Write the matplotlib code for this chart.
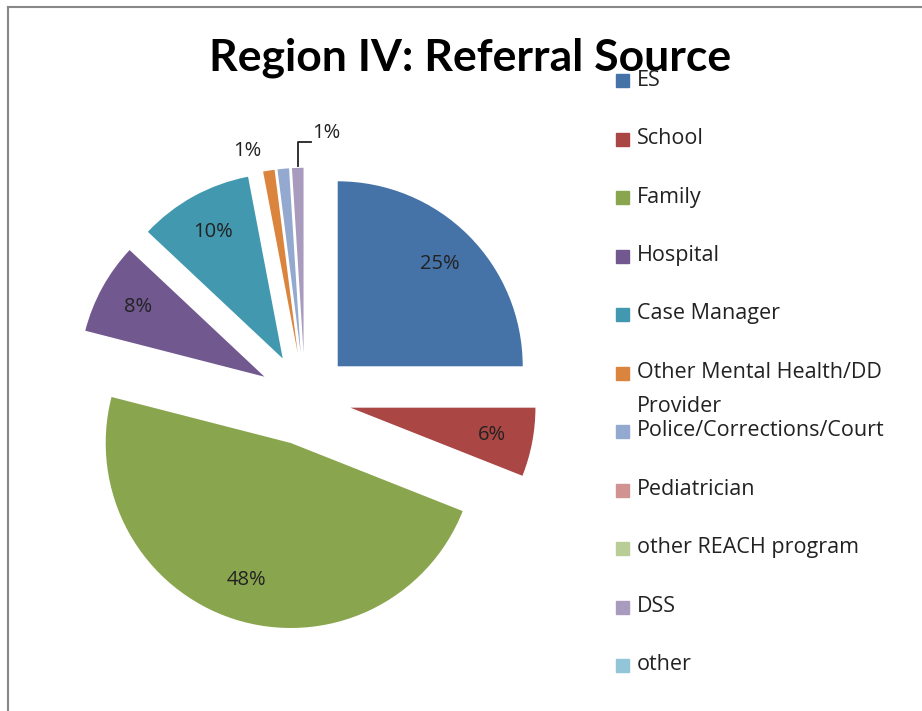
import matplotlib
matplotlib.use('Agg')
import matplotlib.pyplot as plt
import numpy as np

plt.rcParams['font.family'] = ['Open Sans', 'DejaVu Sans']

# referral sources and their shares (percent)
sources = ['ES', 'School', 'Family', 'Hospital', 'Case Manager',
           'Other Mental Health/DD\nProvider', 'Police/Corrections/Court',
           'Pediatrician', 'other REACH program', 'DSS', 'other']
shares = [25, 6, 48, 8, 10, 1, 1, 0, 0, 1, 0]
colors = ['#4572A7', '#AA4643', '#89A54E', '#71588F', '#4198AF', '#DB843D',
          '#93A9CF', '#D19392', '#B9CD96', '#A99BBD', '#92C5D8']

W, H = 922, 711
fig = plt.figure(figsize=(W / 100, H / 100), dpi=100)

# pie axes: centre at (305, 399) px, radius 185 px
R = 185
cx, cy = 305, H - 399
half = 1.5 * R
ax = fig.add_axes([(cx - half) / W, (cy - half) / H, 2 * half / W, 2 * half / H])

def pct_fmt(p):
    return '%d%%' % round(p) if p >= 5 else ''

lab_kw = dict(fontsize=14.5, color='#222222')
wedges, texts, autotexts = ax.pie(
    shares, colors=colors, startangle=90, counterclock=False,
    explode=[0.25] * len(shares), autopct=pct_fmt, pctdistance=0.78,
    wedgeprops=dict(linewidth=0), textprops=lab_kw)
ax.set_xlim(-1.5, 1.5)
ax.set_ylim(-1.5, 1.5)
ax.set_aspect('equal')
ax.axis('off')

# outside labels for the small slices
def tip(w, frac=0.5, rr=1.0):
    a = np.deg2rad(w.theta1 + (w.theta2 - w.theta1) * frac)
    return w.center[0] + rr * w.r * np.cos(a), w.center[1] + rr * w.r * np.sin(a)

x, y = tip(wedges[5], rr=1.16)
ax.text(x - 0.09, y - 0.05, '1%', ha='center', va='center', **lab_kw)

x, y = tip(wedges[9], rr=1.01)
ax.plot([x, x, x + 0.07], [y, y + 0.13, y + 0.13], color='#222222', lw=1.3)
ax.text(x + 0.08, y + 0.18, '1%', ha='left', va='center', **lab_kw)

# title
fig.text(470 / W, 1 - 58 / H, 'Region IV: Referral Source', fontsize=32,
         fontweight='bold', ha='center', va='center', family=['Lato', 'DejaVu Sans'])

# legend, drawn by hand so the wrapped entry does not change row spacing
for i, (name, c) in enumerate(zip(sources, colors)):
    ty = 80 + i * 58.5
    fig.patches.append(plt.Rectangle((616 / W, 1 - (ty + 7) / H), 13 / W, 13 / H,
                                     transform=fig.transFigure, color=c, figure=fig))
    lines = name.split('\n')
    fig.text(637 / W, 1 - ty / H, lines[0], fontsize=15.5,
             ha='left', va='center', color='#222222')
    if len(lines) > 1:
        fig.text(637 / W, 1 - (ty + 34) / H, lines[1], fontsize=15.5,
                 ha='left', va='center', color='#222222')

# chart frame (only top and left edges visible)
fig.add_artist(plt.Line2D([8 / W, 8 / W], [0, 1 - 7 / H], transform=fig.transFigure,
                          color='#888888', lw=1.5))
fig.add_artist(plt.Line2D([8 / W, 921 / W], [1 - 7 / H, 1 - 7 / H],
                          transform=fig.transFigure, color='#888888', lw=1.5))

fig.savefig('out.png', dpi=100)
